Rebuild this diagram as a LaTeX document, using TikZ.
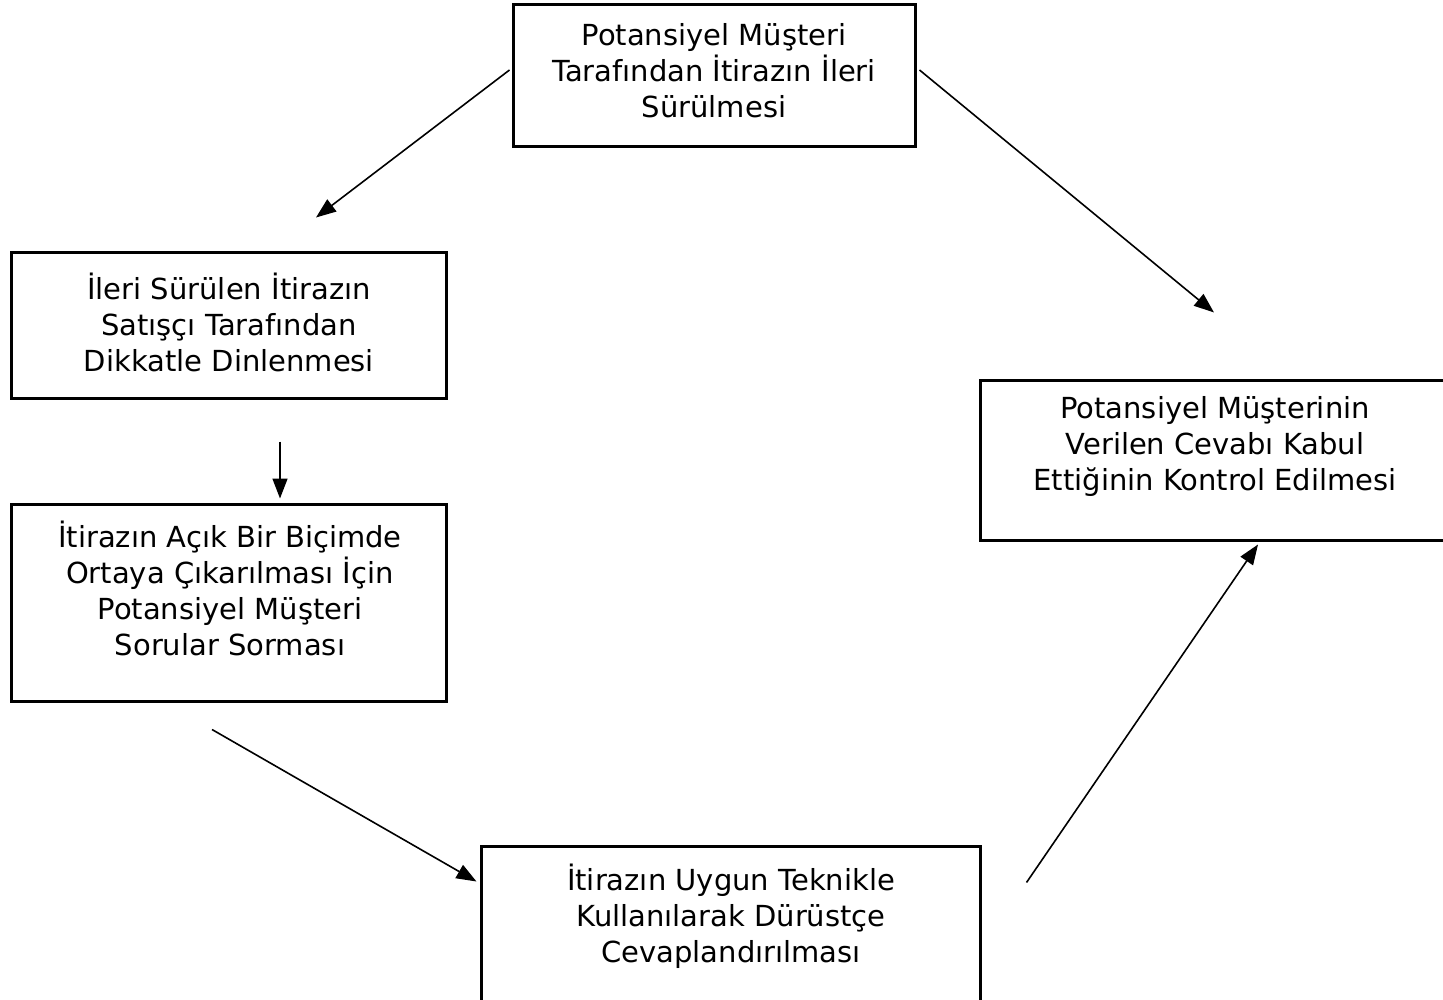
\documentclass[tikz,border=0pt]{standalone}
\usepackage{fontspec}
\setmainfont{DejaVu Sans}
\usetikzlibrary{arrows.meta,calc}
\begin{document}
\begin{tikzpicture}[x=1pt,y=-1pt,
  box/.style={draw=black,line width=3pt,inner sep=0pt},
  txt/.style={align=center,font=\fontsize{29}{36}\selectfont,inner sep=0pt},
  arr/.style={line width=1.6pt,-{Triangle[length=20pt,width=15pt]}}]
\clip (0,0) rectangle (1443,1000);
\fill[white] (0,0) rectangle (1443,1000);
% boxes
\node[box,minimum width=402pt,minimum height=142pt] (top) at (714,76) {};
\node[box,minimum width=435pt,minimum height=145pt] (l1) at (228.5,325.5) {};
\node[box,minimum width=435pt,minimum height=197pt] (l2) at (228.5,602.5) {};
\node[box,minimum width=499pt,minimum height=160pt] (bot) at (730.5,926) {};
\node[box,minimum width=470pt,minimum height=160pt] (rt) at (1215,460) {};
% texts
\node[txt] (ttop) at (714,71) {Potansiyel Müşteri\\Tarafından İtirazın İleri\\Sürülmesi};
\node[txt] (tl1) at (229,322) {İleri Sürülen İtirazın\\Satışçı Tarafından\\Dikkatle Dinlenmesi};
\node[txt] (tl2) at (230,588) {İtirazın Açık Bir Biçimde\\Ortaya Çıkarılması İçin\\Potansiyel Müşteri\\Sorular Sorması};
\node[txt] (tbot) at (731,916) {İtirazın Uygun Teknikle\\Kullanılarak Dürüstçe\\Cevaplandırılması};
\node[txt] (trt) at (1215,446) {Potansiyel Müşterinin\\Verilen Cevabı Kabul\\Ettiğinin Kontrol Edilmesi};
% connectors
\draw[arr] ($(top.west)+(-2,-6)$) -- ($(l1.north)+(87.5,-34)$);
\draw[arr] ($(top.east)+(3,-6)$) -- ($(rt.north)+(-1,-66)$);
\draw[arr] ($(l1.south)+(51.5,42)$) -- ($(l2.north)+(51.5,-4)$);
\draw[arr] ($(l2.south)+(-16.5,27)$) -- ($(bot.north west)+(-3,37)$);
\draw[arr] ($(bot.north east)+(45,38)$) -- ($(rt.south)+(43,3)$);
\end{tikzpicture}
\end{document}
